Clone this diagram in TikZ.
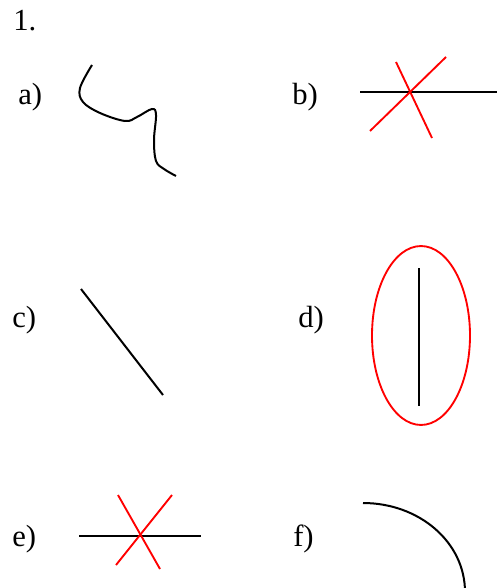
\documentclass[tikz,border=0pt]{standalone}
\usepackage{fontspec}
\setmainfont{Liberation Serif}
\usepackage{xcolor}
\definecolor{crossred}{RGB}{255,0,0}
\tikzset{
    lbl/.style={anchor=base west, inner sep=0pt, font=\fontsize{23}{27}\selectfont},
    stroke/.style={line width=1.5pt, black},
    redstroke/.style={line width=1.4pt, crossred}
}
\begin{document}
\begin{tikzpicture}[x=0.75pt,y=-0.75pt]

% Page frame
\useasboundingbox (0,0) rectangle (496,588);

% Title
\node[lbl] (num) at (13,31) {1.};

% a) wavy curve
\node[lbl] (la) at (18,105) {a)};
\draw[stroke] plot[smooth, tension=0.6] coordinates {(92,65) (80,88) (83,102) (100,113) (125,121) (137,117) (152,109) (156,115) (154,140) (156,161) (164,169) (176,176)};

% b) line crossed by two red lines
\node[lbl] (lb) at (292,105) {b)};
\draw[stroke] (360,92) -- (498,92);
\draw[redstroke] (396,62) -- (432,138);
\draw[redstroke] (370,131) -- (446,57);

% c) slanted segment
\node[lbl] (lc) at (12,327) {c)};
\draw[stroke] (81,289) -- (163,395);

% d) segment inside red ellipse
\node[lbl] (ld) at (298,327) {d)};
\draw[redstroke] (421,335.5) ellipse [x radius=36.75pt, y radius=67.1pt];
\draw[stroke] (419,268) -- (419,406);

% e) line crossed by two red lines
\node[lbl] (le) at (12,546) {e)};
\draw[stroke] (79,536) -- (201,536);
\draw[redstroke] (118,495) -- (160,569);
\draw[redstroke] (172,495) -- (116,565);

% f) arc
\node[lbl] (lf) at (293,546) {f)};
\draw[stroke] (363,503) .. controls (419,503) and (465,542) .. (465,592);

\end{tikzpicture}
\end{document}
